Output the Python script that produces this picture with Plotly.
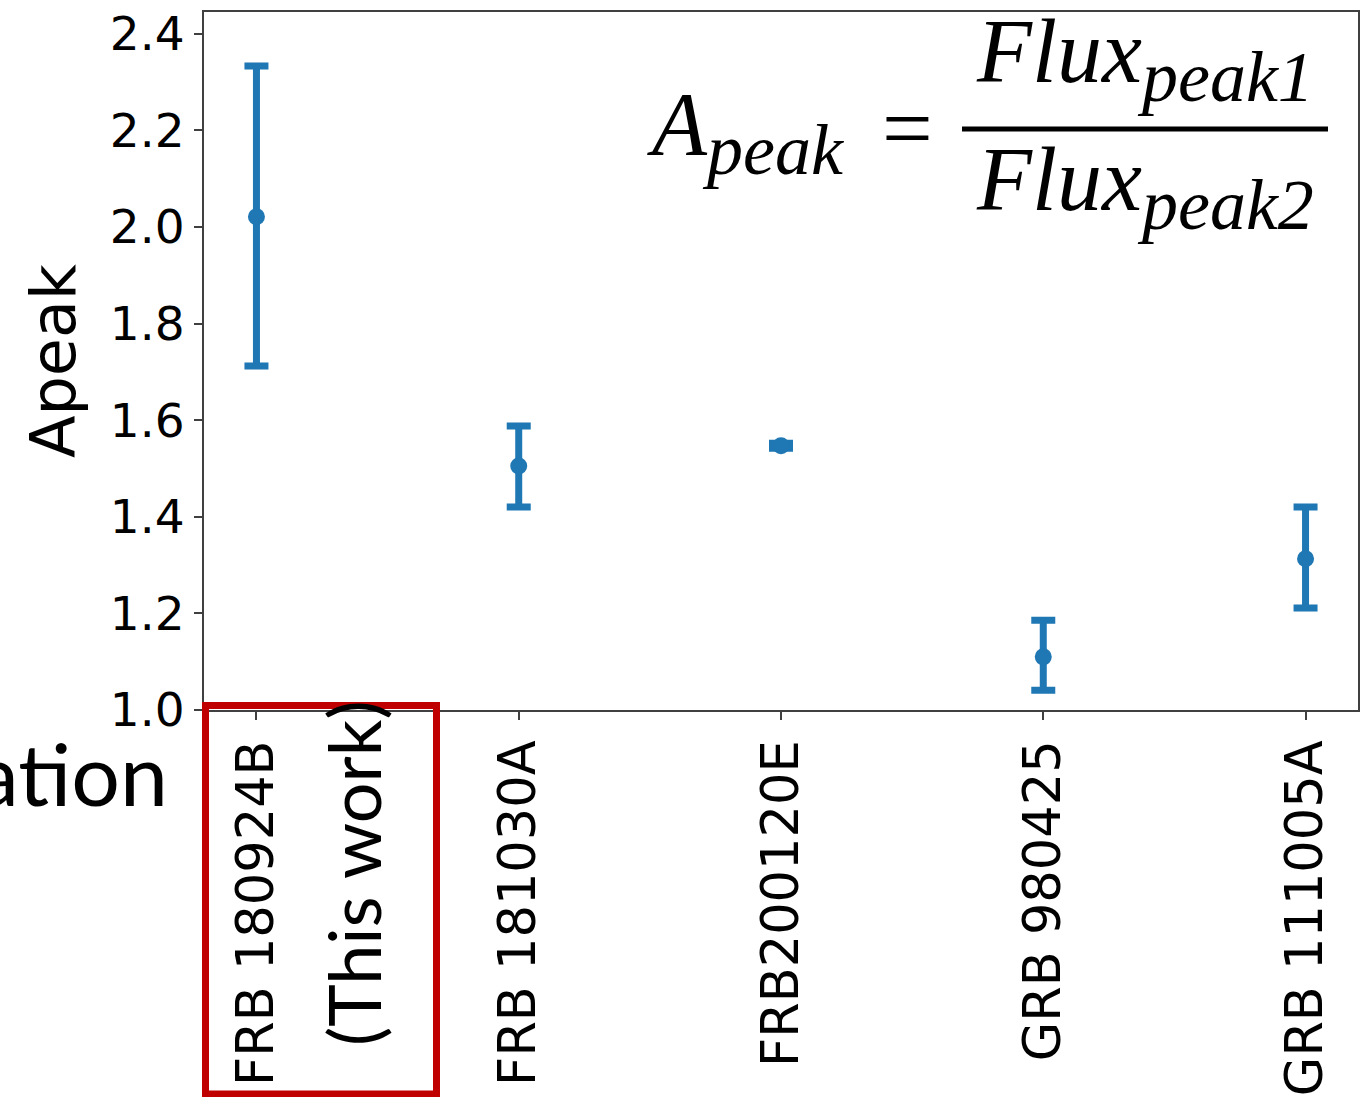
import plotly.graph_objects as go

# ---------------- data ----------------
categories = ["FRB 180924B", "FRB 181030A", "FRB200120E", "GRB 980425", "GRB 111005A"]
apeak = [2.021, 1.505, 1.547, 1.110, 1.313]
err_plus = [0.312, 0.083, 0.005, 0.076, 0.107]
err_minus = [0.309, 0.085, 0.005, 0.069, 0.102]
y_ticks = [1.0, 1.2, 1.4, 1.6, 1.8, 2.0, 2.2, 2.4]
y_tick_text = ["1.0", "1.2", "1.4", "1.6", "1.8", "2.0", "2.2", "2.4"]

# ---------------- layout helpers ----------------
W, H = 1370, 1097
L, R, T, B = 204, 1358, 12, 710


def px(x):
    return (x - L) / (R - L)


def py(y):
    return (B - y) / (B - T)


blue = "#1f77b4"
spine = "#404040"

fig = go.Figure()
fig.add_trace(go.Scatter(
    x=categories, y=apeak, mode="markers",
    marker=dict(color=blue, size=17),
    error_y=dict(type="data", symmetric=False, array=err_plus, arrayminus=err_minus,
                 color=blue, thickness=7, width=12),
    showlegend=False,
))

serif = "Liberation Serif"
ann = []
# formula A_peak = Flux_peak1 / Flux_peak2
ann.append(dict(x=px(645), y=py(132), xref="paper", yref="paper", xanchor="left", yanchor="middle",
                text="<i>A<sub><span style='font-size:72px'>peak</span></sub></i>",
                showarrow=False, font=dict(family=serif, size=90, color="black")))
ann.append(dict(x=px(907), y=py(128), xref="paper", yref="paper", xanchor="center", yanchor="middle",
                text="=", showarrow=False, font=dict(family=serif, size=90, color="black")))
ann.append(dict(x=px(1145), y=py(60), xref="paper", yref="paper", xanchor="center", yanchor="middle",
                text="<i>Flux<sub><span style='font-size:72px'>peak1</span></sub></i>",
                showarrow=False, font=dict(family=serif, size=90, color="black")))
ann.append(dict(x=px(1145), y=py(187), xref="paper", yref="paper", xanchor="center", yanchor="middle",
                text="<i>Flux<sub><span style='font-size:72px'>peak2</span></sub></i>",
                showarrow=False, font=dict(family=serif, size=90, color="black")))
# slide text outside the chart
ann.append(dict(x=px(353), y=py(873), xref="paper", yref="paper", xanchor="center", yanchor="middle",
                text="(This work)", textangle=-90, showarrow=False,
                font=dict(family="Lato", size=72, color="black")))
ann.append(dict(x=px(170), y=py(772), xref="paper", yref="paper", xanchor="right", yanchor="middle",
                text="ation", showarrow=False,
                font=dict(family="Lato", size=86, color="black")))

shapes = [
    dict(type="line", xref="paper", yref="paper", x0=px(962), x1=px(1328), y0=py(129), y1=py(129),
         line=dict(color="black", width=5)),
    dict(type="rect", xref="paper", yref="paper", x0=px(205.5), x1=px(436.5), y0=py(705.5), y1=py(1094),
         line=dict(color="#C00000", width=7), fillcolor="rgba(0,0,0,0)"),
]

fig.update_layout(
    width=W, height=H,
    margin=dict(l=L, r=W - R, t=T, b=H - B, pad=0, autoexpand=False),
    paper_bgcolor="white", plot_bgcolor="white",
    annotations=ann, shapes=shapes,
    font=dict(family="DejaVu Sans", color="black"),
)
fig.update_xaxes(
    type="category", range=[-0.2, 4.2], tickangle=-90, automargin=False,
    showline=True, mirror=True, linecolor=spine, linewidth=2,
    ticks="outside", ticklen=8, tickwidth=2, tickcolor=spine,
    tickfont=dict(family="DejaVu Sans", size=51, color="black"),
    showgrid=False, zeroline=False,
)
fig.update_yaxes(
    range=[1.0, 2.445], tickvals=y_ticks, ticktext=y_tick_text, automargin=False,
    showline=True, mirror=True, linecolor=spine, linewidth=2,
    ticks="outside", ticklen=8, tickwidth=2, tickcolor=spine,
    tickfont=dict(family="DejaVu Sans", size=47, color="black"),
    title=dict(text="Apeak", font=dict(family="DejaVu Sans", size=62, color="black"), standoff=14),
    showgrid=False, zeroline=False,
)

fig.write_html("out.html")
